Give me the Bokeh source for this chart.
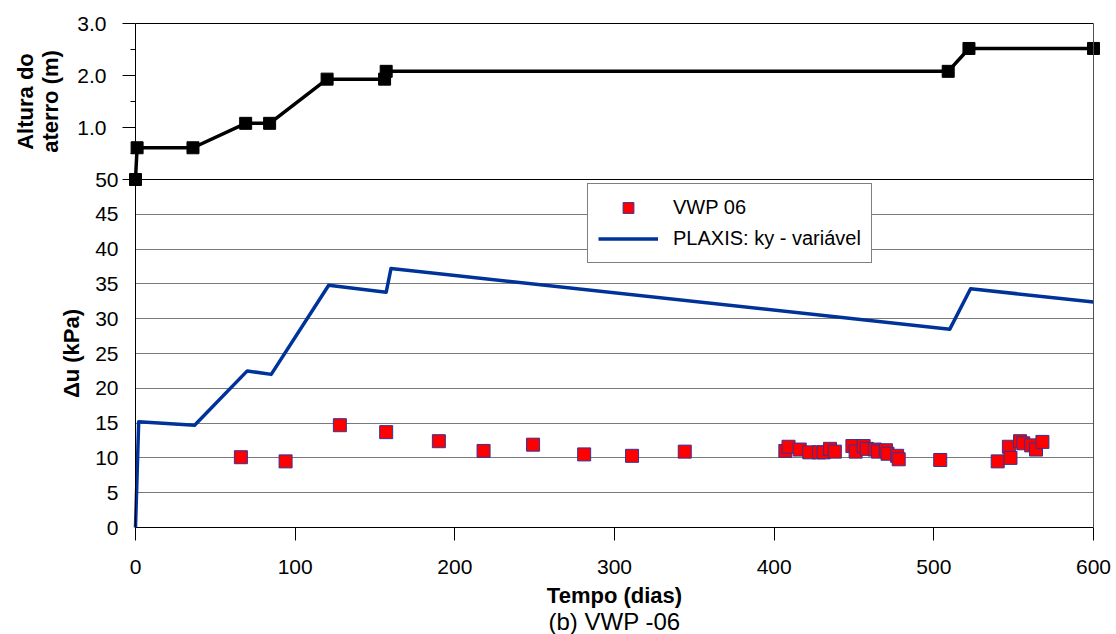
import math
from bokeh.plotting import figure
from bokeh.models import (Range1d, LinearAxis, FixedTicker, Grid, Legend, LegendItem,
                          Label, ColumnDataSource)
from bokeh.embed import file_html
from bokeh.resources import INLINE

FONT = "Liberation Sans"

# ---- data ----
fill_days = [0, 1, 36, 69, 84, 120, 156, 157, 509, 522, 600]
fill_height = [0.0, 0.61, 0.61, 1.08, 1.08, 1.93, 1.93, 2.08, 2.08, 2.52, 2.52]

plaxis_days = [0, 2, 37, 70, 85, 121, 157, 160, 510, 523, 600]
plaxis_du = [0.0, 15.2, 14.7, 22.5, 22.0, 34.8, 33.8, 37.2, 28.5, 34.3, 32.4]

vwp_days = [66, 94, 128, 157, 190, 218, 249, 281, 311, 344,
            407, 409, 416, 422, 428, 431, 435, 438, 449, 451, 456, 458,
            463, 465, 470, 471, 477, 478, 504,
            540, 547, 548, 554, 556, 561, 564, 568]
vwp_du = [10.1, 9.5, 14.7, 13.7, 12.4, 11.0, 11.9, 10.5, 10.3, 10.9,
          11.0, 11.6, 11.2, 10.8, 10.8, 10.8, 11.3, 10.9, 11.7, 10.9, 11.7, 11.3,
          11.2, 10.9, 11.1, 10.6, 10.3, 9.8, 9.7,
          9.5, 11.6, 10.0, 12.4, 12.1, 11.8, 11.2, 12.3]

x_ticks = [0, 100, 200, 300, 400, 500, 600]
du_ticks = [0, 5, 10, 15, 20, 25, 30, 35, 40, 45, 50]
h_ticks = [0, 1, 2, 3]
h_minor = [0.5, 1.5, 2.5]
h_labels = {0: "", 1: "1.0", 2: "2.0", 3: "3.0"}

X_MIN, X_MAX = 0, 600
DU_MAX = 50
H_MAX = 3.0

# ---- canvas geometry (pixels); the frame fills the whole canvas ----
W, H = 1116, 634
PX_X0, PX_X1 = 135, 1093        # pixel columns of day 0 and day 600
PX_BOT, PX_MID, PX_TOP = 527, 179, 23   # du=0, du=50 (= height 0), height 3.0

kx = (PX_X1 - PX_X0) / (X_MAX - X_MIN)
ky = (PX_BOT - PX_MID) / DU_MAX
kh = (PX_MID - PX_TOP) / H_MAX

x_range = Range1d(X_MIN - PX_X0 / kx, X_MAX + (W - PX_X1) / kx)
y_range = Range1d(-(H - PX_BOT) / ky, PX_BOT / ky)
h_range = Range1d(-(H - PX_MID) / kh, PX_MID / kh)
du_at_top = DU_MAX + H_MAX * kh / ky

p = figure(width=W, height=H, output_backend="svg", toolbar_location=None,
           title=None, x_range=x_range, y_range=y_range,
           x_axis_type=None, y_axis_type=None, min_border=0,
           min_border_left=0, min_border_right=0, min_border_top=0, min_border_bottom=0)
p.outline_line_color = None
p.background_fill_color = "white"
p.border_fill_color = "white"
p.extra_y_ranges = {"top": h_range}


def style(ax, size="21px"):
    ax.major_label_text_font = FONT
    ax.major_label_text_font_size = size
    ax.major_label_text_color = "black"
    ax.axis_line_color = "black"
    ax.axis_line_width = 1
    ax.major_tick_line_color = "black"
    ax.minor_tick_line_color = "black"


# x axis
xaxis = LinearAxis(ticker=FixedTicker(ticks=x_ticks), bounds=(X_MIN, X_MAX), fixed_location=0,
                   major_tick_out=13, major_tick_in=0, minor_tick_out=0, minor_tick_in=0,
                   major_label_standoff=19)
style(xaxis)
p.add_layout(xaxis, "below")

# bottom panel axis (Δu)
du_axis = LinearAxis(ticker=FixedTicker(ticks=du_ticks), bounds=(0, DU_MAX), fixed_location=0,
                     major_tick_out=0, major_tick_in=0, minor_tick_out=0, minor_tick_in=0,
                     major_label_standoff=17)
style(du_axis)
p.add_layout(du_axis, "left")

# top panel axis (height of fill)
h_axis = LinearAxis(y_range_name="top", ticker=FixedTicker(ticks=h_ticks, minor_ticks=h_minor),
                    bounds=(0, H_MAX), fixed_location=0,
                    major_tick_out=13, major_tick_in=0, minor_tick_out=5, minor_tick_in=0,
                    major_label_standoff=16, major_label_overrides=h_labels)
style(h_axis)
p.add_layout(h_axis, "left")

# frame borders (top and right)
top_border = LinearAxis(y_range_name="top", fixed_location=H_MAX, bounds=(X_MIN, X_MAX),
                        ticker=FixedTicker(ticks=[]), major_tick_out=0, major_tick_in=0,
                        minor_tick_out=0, minor_tick_in=0, major_label_text_font_size="0px")
top_border.axis_line_color = "black"
p.add_layout(top_border, "above")

right_border = LinearAxis(fixed_location=X_MAX, bounds=(0, du_at_top),
                          ticker=FixedTicker(ticks=[]),
                          major_tick_out=0, major_tick_in=0, minor_tick_out=0, minor_tick_in=0,
                          major_label_text_font_size="0px")
right_border.axis_line_color = "#505050"
p.add_layout(right_border, "right")

# grid lines of the bottom panel
g1 = Grid(dimension=1, ticker=FixedTicker(ticks=du_ticks[1:-1]), cross_bounds=(X_MIN, X_MAX),
          grid_line_color="#7a7a7a", grid_line_width=1)
g2 = Grid(dimension=1, ticker=FixedTicker(ticks=[DU_MAX]), cross_bounds=(X_MIN, X_MAX),
          grid_line_color="black", grid_line_width=1)
p.add_layout(g1)
p.add_layout(g2)

# ---- glyphs ----
src_fill = ColumnDataSource(dict(day=fill_days, h=fill_height))
p.line("day", "h", source=src_fill, y_range_name="top", line_color="black",
       line_width=3.5, line_join="round")
p.scatter("day", "h", source=src_fill, y_range_name="top", marker="square", size=12,
          fill_color="black", line_color="black")

src_plaxis = ColumnDataSource(dict(day=plaxis_days, du=plaxis_du))
r_plaxis = p.line("day", "du", source=src_plaxis, line_color="#003399", line_width=3.5,
                  line_join="round")

src_vwp = ColumnDataSource(dict(day=vwp_days, du=vwp_du))
r_vwp = p.scatter("day", "du", source=src_vwp, marker="square", size=13,
                  fill_color="#FF0000", line_color="#333399", line_width=1)

legend = Legend(items=[LegendItem(label="VWP 06", renderers=[r_vwp]),
                       LegendItem(label="PLAXIS: ky - variável", renderers=[r_plaxis])],
                location=(587, H - 263), orientation="vertical",
                border_line_color="black", border_line_width=1,
                background_fill_color="white", background_fill_alpha=1.0,
                label_text_font=FONT, label_text_font_size="20px", label_text_color="black",
                glyph_width=60, glyph_height=27, label_height=27, label_standoff=15,
                padding=10, spacing=4, margin=0)
p.add_layout(legend)

# ---- titles ----
def px_to_day(px):
    return X_MIN + (px - PX_X0) / kx

def px_to_du(py):
    return (PX_BOT - py) / ky

p.add_layout(Label(x=px_to_day(71), y=DU_MAX / 2, text="Δu (kPa)", angle=math.pi / 2,
                   text_align="center", text_baseline="middle", text_font=FONT,
                   text_font_size="22px", text_font_style="bold", text_color="black"))
p.add_layout(Label(x=px_to_day(37), y=H_MAX / 2, y_range_name="top",
                   text="Altura do\naterro (m)",
                   angle=math.pi / 2, text_align="center", text_baseline="middle",
                   text_font=FONT, text_font_size="22px", text_font_style="bold",
                   text_line_height=1.0, text_color="black"))
p.add_layout(Label(x=(X_MIN + X_MAX) / 2, y=px_to_du(595), text="Tempo (dias)",
                   text_align="center", text_baseline="middle", text_font=FONT,
                   text_font_size="22px", text_font_style="bold", text_color="black"))
p.add_layout(Label(x=(X_MIN + X_MAX) / 2, y=px_to_du(621), text="(b) VWP -06",
                   text_align="center", text_baseline="middle", text_font=FONT,
                   text_font_size="24px", text_color="black"))

open("out.html", "w").write(file_html(p, INLINE))
